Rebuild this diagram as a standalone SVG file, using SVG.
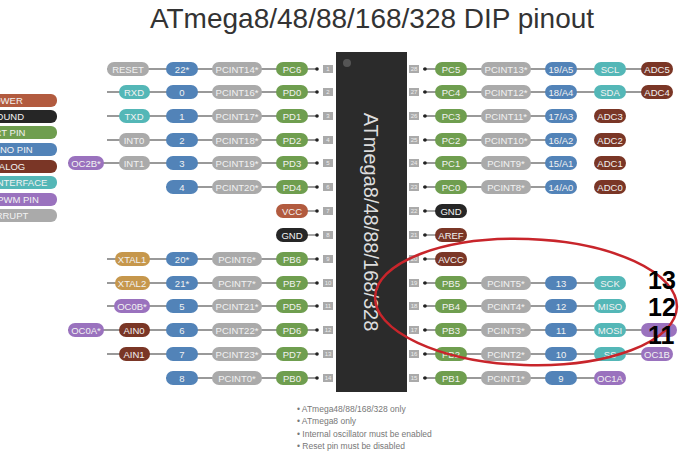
<svg xmlns="http://www.w3.org/2000/svg" width="680" height="453" viewBox="0 0 680 453">
<style>
text{font-family:"Liberation Sans",Arial,sans-serif}
.p text,text.p{font-size:9.5px;fill:#f2f2f2;text-anchor:middle}
.w{stroke:#777;stroke-width:1.3}
.pw{fill:#b25b3f}.gd{fill:#262626}.pt{fill:#6f9e4f}.ar{fill:#5283b8}.an{fill:#7a3626}.if{fill:#54b7b7}.pm{fill:#9a72be}.ir{fill:#aaaaaa}.xt{fill:#c6974c}
.pn{fill:#a8a8a8}
.fn{font-size:8.5px;fill:#777}
</style>
<rect width="680" height="453" fill="#fff"/>
<text x="372" y="28" font-size="28" fill="#333" text-anchor="middle">ATmega8/48/88/168/328 DIP pinout</text>
<g id="legend" class="p">
<rect x="-12" y="94" width="69" height="13" rx="6" class="pw"/><text x="8" y="104">OWER</text>
<rect x="-12" y="110" width="69" height="13" rx="6" class="gd"/><text x="10" y="120">OUND</text>
<rect x="-12" y="126" width="69" height="13" rx="6" class="pt"/><text x="10" y="136">RT PIN</text>
<rect x="-12" y="143" width="69" height="13" rx="6" class="ar"/><text x="15" y="153">INO PIN</text>
<rect x="-12" y="160" width="69" height="13" rx="6" class="an"/><text x="12" y="170">ALOG</text>
<rect x="-12" y="176" width="69" height="13" rx="6" class="if"/><text x="22" y="186">NTERFACE</text>
<rect x="-12" y="193" width="69" height="13" rx="6" class="pm"/><text x="18" y="203">PWM PIN</text>
<rect x="-12" y="209" width="69" height="13" rx="6" class="ir"/><text x="12" y="219">RRUPT</text>
</g>
<g id="connectors" class="w">
<line x1="107" y1="69" x2="318" y2="69"/><line x1="107" y1="92" x2="318" y2="92"/><line x1="107" y1="116" x2="318" y2="116"/><line x1="107" y1="140" x2="318" y2="140"/><line x1="68" y1="163" x2="318" y2="163"/><line x1="166" y1="187" x2="318" y2="187"/><line x1="290" y1="211" x2="318" y2="211"/><line x1="290" y1="235" x2="318" y2="235"/><line x1="107" y1="259" x2="318" y2="259"/><line x1="107" y1="283" x2="318" y2="283"/><line x1="107" y1="306" x2="318" y2="306"/><line x1="68" y1="330" x2="318" y2="330"/><line x1="107" y1="354" x2="318" y2="354"/><line x1="166" y1="378" x2="318" y2="378"/>
<line x1="423" y1="69" x2="660" y2="69"/><line x1="423" y1="92" x2="660" y2="92"/><line x1="423" y1="116" x2="560" y2="116"/><line x1="423" y1="140" x2="560" y2="140"/><line x1="423" y1="163" x2="560" y2="163"/><line x1="423" y1="187" x2="560" y2="187"/><line x1="423" y1="211" x2="450" y2="211"/><line x1="423" y1="235" x2="450" y2="235"/><line x1="423" y1="259" x2="450" y2="259"/><line x1="423" y1="283" x2="610" y2="283"/><line x1="423" y1="306" x2="610" y2="306"/><line x1="423" y1="330" x2="660" y2="330"/><line x1="423" y1="354" x2="660" y2="354"/><line x1="423" y1="378" x2="610" y2="378"/>
</g>
<g id="chip">
<rect x="336" y="52" width="71" height="340" fill="#2b2b2b"/>
<circle cx="347" cy="63" r="4" fill="#555"/>
<text transform="translate(364,222) rotate(90)" font-size="20" fill="#ddd" text-anchor="middle">ATmega8/48/88/168/328</text>
</g>
<g id="pins" font-size="6" fill="#eee" text-anchor="middle">
<g fill="#aaa"><rect x="323" y="65" width="10" height="8"/><rect x="323" y="88" width="10" height="8"/><rect x="323" y="112" width="10" height="8"/><rect x="323" y="136" width="10" height="8"/><rect x="323" y="159" width="10" height="8"/><rect x="323" y="183" width="10" height="8"/><rect x="323" y="207" width="10" height="8"/><rect x="323" y="231" width="10" height="8"/><rect x="323" y="255" width="10" height="8"/><rect x="323" y="279" width="10" height="8"/><rect x="323" y="302" width="10" height="8"/><rect x="323" y="326" width="10" height="8"/><rect x="323" y="350" width="10" height="8"/><rect x="323" y="374" width="10" height="8"/>
<rect x="409" y="65" width="10" height="8"/><rect x="409" y="88" width="10" height="8"/><rect x="409" y="112" width="10" height="8"/><rect x="409" y="136" width="10" height="8"/><rect x="409" y="159" width="10" height="8"/><rect x="409" y="183" width="10" height="8"/><rect x="409" y="207" width="10" height="8"/><rect x="409" y="231" width="10" height="8"/><rect x="409" y="255" width="10" height="8"/><rect x="409" y="279" width="10" height="8"/><rect x="409" y="302" width="10" height="8"/><rect x="409" y="326" width="10" height="8"/><rect x="409" y="350" width="10" height="8"/><rect x="409" y="374" width="10" height="8"/></g>
<g fill="#222"><circle cx="317" cy="69" r="1.8"/><circle cx="317" cy="92" r="1.8"/><circle cx="317" cy="116" r="1.8"/><circle cx="317" cy="140" r="1.8"/><circle cx="317" cy="163" r="1.8"/><circle cx="317" cy="187" r="1.8"/><circle cx="317" cy="211" r="1.8"/><circle cx="317" cy="235" r="1.8"/><circle cx="317" cy="259" r="1.8"/><circle cx="317" cy="283" r="1.8"/><circle cx="317" cy="306" r="1.8"/><circle cx="317" cy="330" r="1.8"/><circle cx="317" cy="354" r="1.8"/><circle cx="317" cy="378" r="1.8"/>
<circle cx="425" cy="69" r="1.8"/><circle cx="425" cy="92" r="1.8"/><circle cx="425" cy="116" r="1.8"/><circle cx="425" cy="140" r="1.8"/><circle cx="425" cy="163" r="1.8"/><circle cx="425" cy="187" r="1.8"/><circle cx="425" cy="211" r="1.8"/><circle cx="425" cy="235" r="1.8"/><circle cx="425" cy="259" r="1.8"/><circle cx="425" cy="283" r="1.8"/><circle cx="425" cy="306" r="1.8"/><circle cx="425" cy="330" r="1.8"/><circle cx="425" cy="354" r="1.8"/><circle cx="425" cy="378" r="1.8"/></g>
<text x="328" y="71">1</text><text x="328" y="94">2</text><text x="328" y="118">3</text><text x="328" y="142">4</text><text x="328" y="165">5</text><text x="328" y="189">6</text><text x="328" y="213">7</text><text x="328" y="237">8</text><text x="328" y="261">9</text><text x="328" y="285">10</text><text x="328" y="308">11</text><text x="328" y="332">12</text><text x="328" y="356">13</text><text x="328" y="380">14</text>
<text x="414" y="71">28</text><text x="414" y="94">27</text><text x="414" y="118">26</text><text x="414" y="142">25</text><text x="414" y="165">24</text><text x="414" y="189">23</text><text x="414" y="213">22</text><text x="414" y="237">21</text><text x="414" y="261">20</text><text x="414" y="285">19</text><text x="414" y="308">18</text><text x="414" y="332">17</text><text x="414" y="356">16</text><text x="414" y="380">15</text>
</g>
<g id="left-labels" class="p">
<rect x="107" y="62" width="42" height="14" rx="7" class="ir"/><text x="128" y="72.5">RESET</text>
<rect x="166" y="62" width="32" height="14" rx="7" class="ar"/><text x="182" y="72.5">22*</text>
<rect x="212" y="62" width="50" height="14" rx="7" class="ir"/><text x="237" y="72.5">PCINT14*</text>
<rect x="276" y="62" width="32" height="14" rx="7" class="pt"/><text x="292" y="72.5">PC6</text>
<rect x="119" y="85" width="31" height="14" rx="7" class="if"/><text x="134" y="95.5">RXD</text>
<rect x="166" y="85" width="32" height="14" rx="7" class="ar"/><text x="182" y="95.5">0</text>
<rect x="212" y="85" width="50" height="14" rx="7" class="ir"/><text x="237" y="95.5">PCINT16*</text>
<rect x="276" y="85" width="32" height="14" rx="7" class="pt"/><text x="292" y="95.5">PD0</text>
<rect x="119" y="109" width="31" height="14" rx="7" class="if"/><text x="134" y="119.5">TXD</text>
<rect x="166" y="109" width="32" height="14" rx="7" class="ar"/><text x="182" y="119.5">1</text>
<rect x="212" y="109" width="50" height="14" rx="7" class="ir"/><text x="237" y="119.5">PCINT17*</text>
<rect x="276" y="109" width="32" height="14" rx="7" class="pt"/><text x="292" y="119.5">PD1</text>
<rect x="119" y="133" width="31" height="14" rx="7" class="ir"/><text x="134" y="143.5">INT0</text>
<rect x="166" y="133" width="32" height="14" rx="7" class="ar"/><text x="182" y="143.5">2</text>
<rect x="212" y="133" width="50" height="14" rx="7" class="ir"/><text x="237" y="143.5">PCINT18*</text>
<rect x="276" y="133" width="32" height="14" rx="7" class="pt"/><text x="292" y="143.5">PD2</text>
<rect x="68" y="156" width="36" height="14" rx="7" class="pm"/><text x="86" y="166.5">OC2B*</text>
<rect x="119" y="156" width="31" height="14" rx="7" class="ir"/><text x="134" y="166.5">INT1</text>
<rect x="166" y="156" width="32" height="14" rx="7" class="ar"/><text x="182" y="166.5">3</text>
<rect x="212" y="156" width="50" height="14" rx="7" class="ir"/><text x="237" y="166.5">PCINT19*</text>
<rect x="276" y="156" width="32" height="14" rx="7" class="pt"/><text x="292" y="166.5">PD3</text>
<rect x="166" y="180" width="32" height="14" rx="7" class="ar"/><text x="182" y="190.5">4</text>
<rect x="212" y="180" width="50" height="14" rx="7" class="ir"/><text x="237" y="190.5">PCINT20*</text>
<rect x="276" y="180" width="32" height="14" rx="7" class="pt"/><text x="292" y="190.5">PD4</text>
<rect x="276" y="204" width="32" height="14" rx="7" class="pw"/><text x="292" y="214.5">VCC</text>
<rect x="276" y="228" width="32" height="14" rx="7" class="gd"/><text x="292" y="238.5">GND</text>
<rect x="115" y="252" width="35" height="14" rx="7" class="xt"/><text x="132" y="262.5">XTAL1</text>
<rect x="166" y="252" width="32" height="14" rx="7" class="ar"/><text x="182" y="262.5">20*</text>
<rect x="212" y="252" width="50" height="14" rx="7" class="ir"/><text x="237" y="262.5">PCINT6*</text>
<rect x="276" y="252" width="32" height="14" rx="7" class="pt"/><text x="292" y="262.5">PB6</text>
<rect x="115" y="276" width="35" height="14" rx="7" class="xt"/><text x="132" y="286.5">XTAL2</text>
<rect x="166" y="276" width="32" height="14" rx="7" class="ar"/><text x="182" y="286.5">21*</text>
<rect x="212" y="276" width="50" height="14" rx="7" class="ir"/><text x="237" y="286.5">PCINT7*</text>
<rect x="276" y="276" width="32" height="14" rx="7" class="pt"/><text x="292" y="286.5">PB7</text>
<rect x="114" y="299" width="36" height="14" rx="7" class="pm"/><text x="132" y="309.5">OC0B*</text>
<rect x="166" y="299" width="32" height="14" rx="7" class="ar"/><text x="182" y="309.5">5</text>
<rect x="212" y="299" width="50" height="14" rx="7" class="ir"/><text x="237" y="309.5">PCINT21*</text>
<rect x="276" y="299" width="32" height="14" rx="7" class="pt"/><text x="292" y="309.5">PD5</text>
<rect x="68" y="323" width="36" height="14" rx="7" class="pm"/><text x="86" y="333.5">OC0A*</text>
<rect x="119" y="323" width="31" height="14" rx="7" class="an"/><text x="134" y="333.5">AIN0</text>
<rect x="166" y="323" width="32" height="14" rx="7" class="ar"/><text x="182" y="333.5">6</text>
<rect x="212" y="323" width="50" height="14" rx="7" class="ir"/><text x="237" y="333.5">PCINT22*</text>
<rect x="276" y="323" width="32" height="14" rx="7" class="pt"/><text x="292" y="333.5">PD6</text>
<rect x="119" y="347" width="31" height="14" rx="7" class="an"/><text x="134" y="357.5">AIN1</text>
<rect x="166" y="347" width="32" height="14" rx="7" class="ar"/><text x="182" y="357.5">7</text>
<rect x="212" y="347" width="50" height="14" rx="7" class="ir"/><text x="237" y="357.5">PCINT23*</text>
<rect x="276" y="347" width="32" height="14" rx="7" class="pt"/><text x="292" y="357.5">PD7</text>
<rect x="166" y="371" width="32" height="14" rx="7" class="ar"/><text x="182" y="381.5">8</text>
<rect x="212" y="371" width="50" height="14" rx="7" class="ir"/><text x="237" y="381.5">PCINT0*</text>
<rect x="276" y="371" width="32" height="14" rx="7" class="pt"/><text x="292" y="381.5">PB0</text>
</g>
<g id="right-labels" class="p">
<rect x="435" y="62" width="32" height="14" rx="7" class="pt"/><text x="451" y="72.5">PC5</text>
<rect x="481" y="62" width="50" height="14" rx="7" class="ir"/><text x="506" y="72.5">PCINT13*</text>
<rect x="545" y="62" width="32" height="14" rx="7" class="ar"/><text x="561" y="72.5">19/A5</text>
<rect x="594" y="62" width="32" height="14" rx="7" class="if"/><text x="610" y="72.5">SCL</text>
<rect x="641" y="62" width="32" height="14" rx="7" class="an"/><text x="657" y="72.5">ADC5</text>
<rect x="435" y="85" width="32" height="14" rx="7" class="pt"/><text x="451" y="95.5">PC4</text>
<rect x="481" y="85" width="50" height="14" rx="7" class="ir"/><text x="506" y="95.5">PCINT12*</text>
<rect x="545" y="85" width="32" height="14" rx="7" class="ar"/><text x="561" y="95.5">18/A4</text>
<rect x="594" y="85" width="32" height="14" rx="7" class="if"/><text x="610" y="95.5">SDA</text>
<rect x="641" y="85" width="32" height="14" rx="7" class="an"/><text x="657" y="95.5">ADC4</text>
<rect x="435" y="109" width="32" height="14" rx="7" class="pt"/><text x="451" y="119.5">PC3</text>
<rect x="481" y="109" width="50" height="14" rx="7" class="ir"/><text x="506" y="119.5">PCINT11*</text>
<rect x="545" y="109" width="32" height="14" rx="7" class="ar"/><text x="561" y="119.5">17/A3</text>
<rect x="594" y="109" width="32" height="14" rx="7" class="an"/><text x="610" y="119.5">ADC3</text>
<rect x="435" y="133" width="32" height="14" rx="7" class="pt"/><text x="451" y="143.5">PC2</text>
<rect x="481" y="133" width="50" height="14" rx="7" class="ir"/><text x="506" y="143.5">PCINT10*</text>
<rect x="545" y="133" width="32" height="14" rx="7" class="ar"/><text x="561" y="143.5">16/A2</text>
<rect x="594" y="133" width="32" height="14" rx="7" class="an"/><text x="610" y="143.5">ADC2</text>
<rect x="435" y="156" width="32" height="14" rx="7" class="pt"/><text x="451" y="166.5">PC1</text>
<rect x="481" y="156" width="50" height="14" rx="7" class="ir"/><text x="506" y="166.5">PCINT9*</text>
<rect x="545" y="156" width="32" height="14" rx="7" class="ar"/><text x="561" y="166.5">15/A1</text>
<rect x="594" y="156" width="32" height="14" rx="7" class="an"/><text x="610" y="166.5">ADC1</text>
<rect x="435" y="180" width="32" height="14" rx="7" class="pt"/><text x="451" y="190.5">PC0</text>
<rect x="481" y="180" width="50" height="14" rx="7" class="ir"/><text x="506" y="190.5">PCINT8*</text>
<rect x="545" y="180" width="32" height="14" rx="7" class="ar"/><text x="561" y="190.5">14/A0</text>
<rect x="594" y="180" width="32" height="14" rx="7" class="an"/><text x="610" y="190.5">ADC0</text>
<rect x="435" y="204" width="32" height="14" rx="7" class="gd"/><text x="451" y="214.5">GND</text>
<rect x="435" y="228" width="32" height="14" rx="7" class="an"/><text x="451" y="238.5">AREF</text>
<rect x="435" y="252" width="32" height="14" rx="7" class="an"/><text x="451" y="262.5">AVCC</text>
<rect x="435" y="276" width="32" height="14" rx="7" class="pt"/><text x="451" y="286.5">PB5</text>
<rect x="481" y="276" width="50" height="14" rx="7" class="ir"/><text x="506" y="286.5">PCINT5*</text>
<rect x="545" y="276" width="32" height="14" rx="7" class="ar"/><text x="561" y="286.5">13</text>
<rect x="594" y="276" width="32" height="14" rx="7" class="if"/><text x="610" y="286.5">SCK</text>
<rect x="435" y="299" width="32" height="14" rx="7" class="pt"/><text x="451" y="309.5">PB4</text>
<rect x="481" y="299" width="50" height="14" rx="7" class="ir"/><text x="506" y="309.5">PCINT4*</text>
<rect x="545" y="299" width="32" height="14" rx="7" class="ar"/><text x="561" y="309.5">12</text>
<rect x="594" y="299" width="32" height="14" rx="7" class="if"/><text x="610" y="309.5">MISO</text>
<rect x="435" y="323" width="32" height="14" rx="7" class="pt"/><text x="451" y="333.5">PB3</text>
<rect x="481" y="323" width="50" height="14" rx="7" class="ir"/><text x="506" y="333.5">PCINT3*</text>
<rect x="545" y="323" width="32" height="14" rx="7" class="ar"/><text x="561" y="333.5">11</text>
<rect x="594" y="323" width="32" height="14" rx="7" class="if"/><text x="610" y="333.5">MOSI</text>
<rect x="641" y="323" width="36" height="14" rx="7" class="pm"/>
<rect x="435" y="347" width="32" height="14" rx="7" class="pt"/><text x="451" y="357.5">PB2</text>
<rect x="481" y="347" width="50" height="14" rx="7" class="ir"/><text x="506" y="357.5">PCINT2*</text>
<rect x="545" y="347" width="32" height="14" rx="7" class="ar"/><text x="561" y="357.5">10</text>
<rect x="594" y="347" width="32" height="14" rx="7" class="if"/><text x="610" y="357.5">SS</text>
<rect x="641" y="347" width="32" height="14" rx="7" class="pm"/><text x="657" y="357.5">OC1B</text>
<rect x="435" y="371" width="32" height="14" rx="7" class="pt"/><text x="451" y="381.5">PB1</text>
<rect x="481" y="371" width="50" height="14" rx="7" class="ir"/><text x="506" y="381.5">PCINT1*</text>
<rect x="545" y="371" width="32" height="14" rx="7" class="ar"/><text x="561" y="381.5">9</text>
<rect x="594" y="371" width="32" height="14" rx="7" class="pm"/><text x="610" y="381.5">OC1A</text>
</g>
<g id="annotation">
<ellipse cx="526" cy="302" rx="151" ry="63" fill="none" stroke="#c8252b" stroke-width="2.5" transform="rotate(2 526 302)"/>
<g font-size="25" font-weight="bold" fill="#000" font-family="Liberation Sans,Arial,sans-serif"><text x="648" y="289">13</text><text x="648" y="316">12</text><text x="648" y="344">11</text></g>
</g>
<g id="notes" class="fn">
<text x="297" y="412">• ATmega48/88/168/328 only</text>
<text x="297" y="424">• ATmega8 only</text>
<text x="297" y="437">• Internal oscillator must be enabled</text>
<text x="297" y="449">• Reset pin must be disabled</text>
</g>
</svg>
